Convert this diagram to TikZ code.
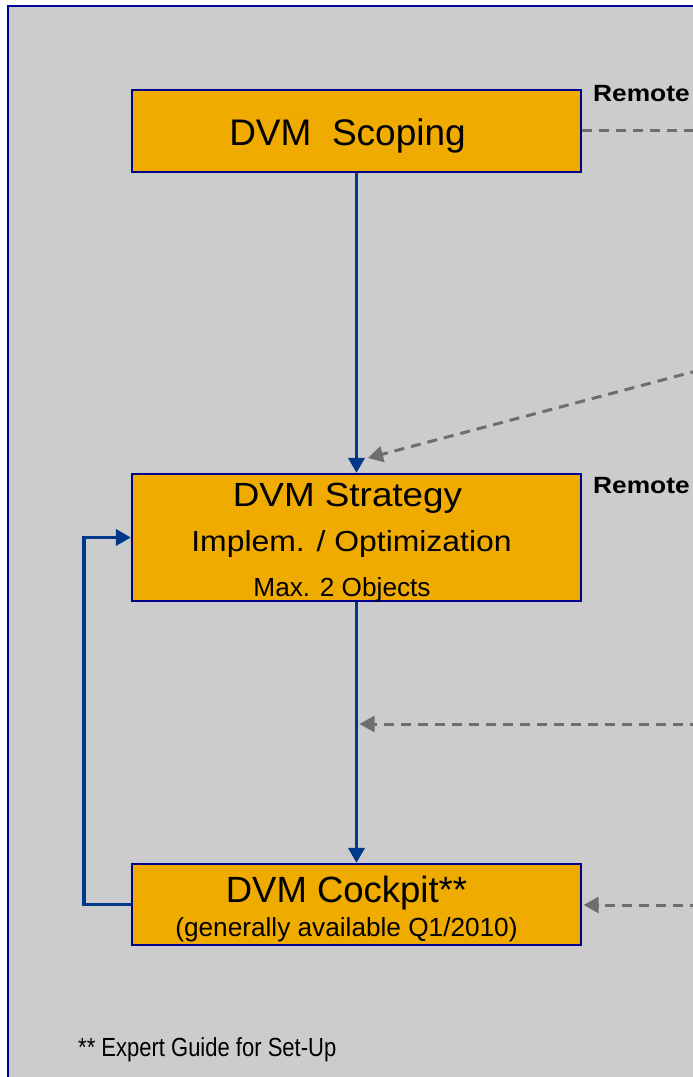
\documentclass[tikz,border=0pt]{standalone}
\usepackage{fontspec}
\usepackage{graphicx}
\setmainfont{Liberation Sans}
\usetikzlibrary{arrows.meta}
\definecolor{bggray}{RGB}{204,204,204}
\definecolor{boxfill}{RGB}{240,171,0}
\definecolor{boxline}{RGB}{0,0,140}
\definecolor{framenavy}{RGB}{0,0,150}
\definecolor{flowblue}{RGB}{0,57,138}
\definecolor{dashgray}{RGB}{110,110,110}
\newcommand{\fsz}[1]{\fontsize{#1}{#1}\selectfont}
\newcommand{\sxx}[2]{\scalebox{#1}[1]{#2}}
\begin{document}
\begin{tikzpicture}[x=1pt,y=-1pt,
  box/.style={draw=boxline,line width=2.2pt,fill=boxfill,minimum width=449pt,inner sep=0pt},
  flow/.style={draw=flowblue,line width=3.6pt,-{Triangle[length=15pt,width=16pt]}},
  remote/.style={draw=dashgray,line width=3pt,dash pattern=on 10pt off 7pt},
  remotearrow/.style={remote,-{Triangle[length=15pt,width=16pt]}},
  txt/.style={anchor=base,inner sep=0pt}]
\useasboundingbox (0,0) rectangle (693,1077);
\clip (0,0) rectangle (693,1077);
\fill[white] (0,0) rectangle (693,1077);
\draw[draw=framenavy,line width=2.6pt,fill=bggray] (8,6) rectangle (730,1110);

% boxes
\node[box,minimum height=82pt] (scoping) at (356.5,131) {};
\node[box,minimum height=127pt] (strategy) at (356.5,537.5) {};
\node[box,minimum height=81pt] (cockpit) at (356.5,904.5) {};

% texts
\node[txt] (tscop) at (347.5,145.5) {\fsz{37}DVM\ \ Scoping};
\node[txt] (tstr1) at (347.5,506) {\sxx{1.1}{\fsz{33.5}DVM Strategy}};
\node[txt] (tstr2) at (351.5,551.5) {\sxx{1.1}{\fsz{29}Implem. / Optimization}};
\node[txt] (tstr3) at (342,596) {\fsz{26.2}Max. 2 Objects};
\node[txt] (tcock1) at (346.5,902) {\fsz{36.5}DVM Cockpit**};
\node[txt] (tcock2) at (346.5,936) {\fsz{26.2}(generally available Q1/2010)};
\node[txt,anchor=base west] (rem1) at (593,101) {\sxx{1.12}{\fsz{23.5}\bfseries Remote}};
\node[txt,anchor=base west] (rem2) at (593,493) {\sxx{1.12}{\fsz{23.5}\bfseries Remote}};
\node[txt,anchor=base west] (foot) at (78,1056) {\sxx{0.84}{\fsz{26.2}** Expert Guide for Set-Up}};

% free ends
\coordinate (r1) at (700,130);
\coordinate (r2) at (700,370);
\coordinate (t2) at (368,458);
\coordinate (r3) at (700,724);
\coordinate (t3) at (359.5,724);
\coordinate (r4) at (700,905);
\coordinate (loopx) at (84,0);

% connectors
\draw[flow] (scoping.south) -- (strategy.north);
\draw[flow] (strategy.south) -- (cockpit.north);
\draw[flow] (cockpit.west) -- (cockpit.west -| loopx) |- (strategy.west);
\draw[remote] (scoping.east |- r1) -- (r1);
\draw[remotearrow] (r2) -- (t2);
\draw[remotearrow] (r3) -- (t3);
\draw[remotearrow,shorten >=1.5pt] (r4) -- (cockpit.east |- r4);
\end{tikzpicture}
\end{document}
